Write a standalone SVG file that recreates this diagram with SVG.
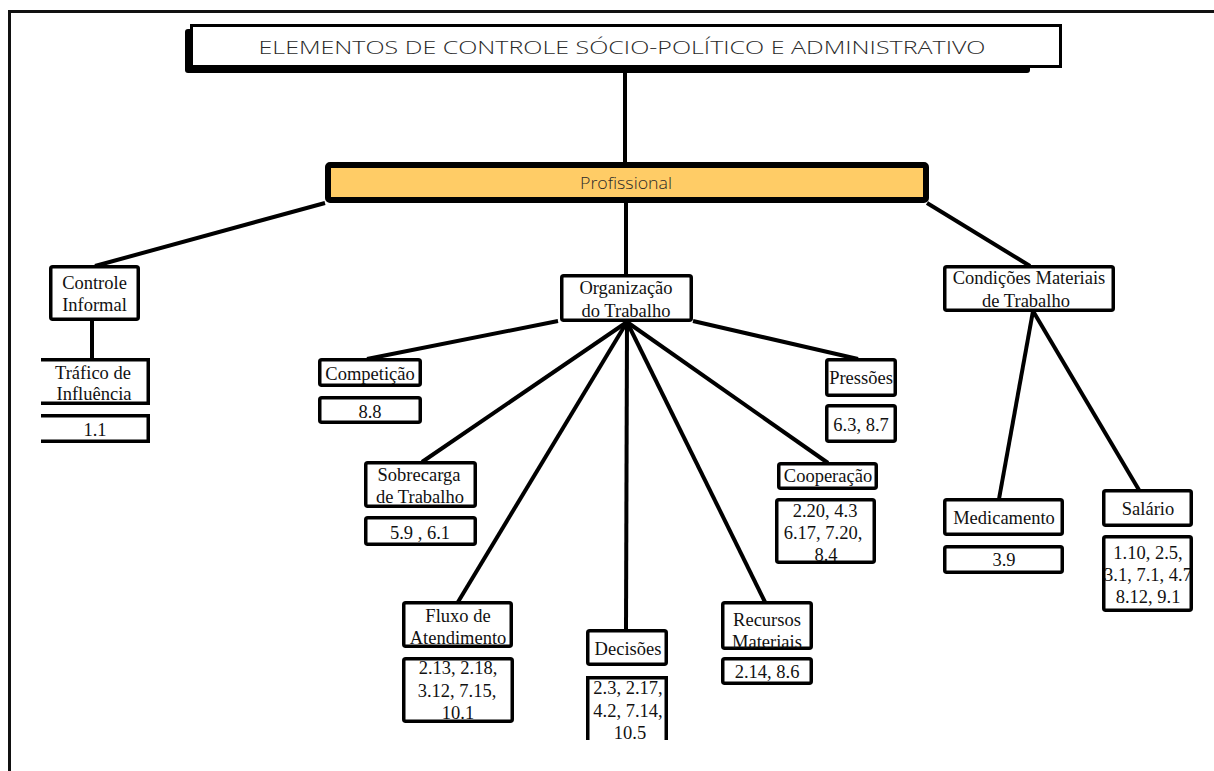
<svg xmlns="http://www.w3.org/2000/svg" width="1214" height="771" viewBox="0 0 1214 771">
<style>
.frame{fill:none;stroke:#111;stroke-width:3}
.c{fill:none;stroke:#000;stroke-width:4;stroke-linecap:butt}
.b{fill:#fff;stroke:#000;stroke-width:3.5}
.bo{fill:none;stroke:#000;stroke-width:3.5}
.t{font-family:"Liberation Serif","Times New Roman",serif;font-size:18.5px;fill:#111;text-anchor:middle}
.h{font-family:"Open Sans","Noto Sans",sans-serif;font-weight:300;fill:#2a2a2a;text-anchor:middle}
</style>
<rect width="1214" height="771" fill="#fff"/>
<path class="frame" d="M9.5,771 V11.5 H1214"/>
<g id="connectors">
<line class="c" x1="625" y1="73" x2="625" y2="163"/>
<line class="c" x1="626" y1="203" x2="626" y2="275"/>
<line class="c" x1="325" y1="203" x2="95" y2="266"/>
<line class="c" x1="927" y1="203" x2="1030" y2="266"/>
<line class="c" x1="92" y1="321" x2="92" y2="359"/>
<line class="c" x1="558" y1="321" x2="367" y2="359"/>
<line class="c" x1="693" y1="321" x2="858" y2="359"/>
<line class="c" x1="627" y1="322" x2="422" y2="462"/>
<line class="c" x1="627" y1="322" x2="458" y2="602"/>
<line class="c" x1="627" y1="322" x2="626" y2="630"/>
<line class="c" x1="627" y1="322" x2="765" y2="602"/>
<line class="c" x1="627" y1="322" x2="828" y2="463"/>
<line class="c" x1="1033" y1="311" x2="999" y2="499"/>
<line class="c" x1="1033" y1="311" x2="1139" y2="490"/>
</g>
<g id="title">
<rect x="185" y="29" width="845" height="44" rx="3" fill="#000"/>
<rect x="191.5" y="25.5" width="869" height="41" fill="#fff" stroke="#000" stroke-width="3"/>
<text class="h" x="622" y="54" font-size="18" textLength="727" lengthAdjust="spacingAndGlyphs">ELEMENTOS DE CONTROLE SÓCIO-POLÍTICO E ADMINISTRATIVO</text>
</g>
<g id="profissional">
<rect x="328" y="165" width="598" height="35" rx="2" fill="#FFCC66" stroke="#000" stroke-width="6"/>
<text class="h" x="626" y="189" font-size="16" textLength="92" lengthAdjust="spacingAndGlyphs">Profissional</text>
</g>
<g id="controle-informal">
<rect class="b" x="50.75" y="266.75" width="87.5" height="52.5" rx="2"/>
<text class="t" x="94.5" y="289">Controle</text>
<text class="t" x="94.5" y="311">Informal</text>
</g>
<g id="trafico">
<path class="b" d="M41,359.75 H148.25 V403.25 H41"/>
<text class="t" x="93" y="379">Tráfico de</text>
<text class="t" x="94" y="400">Influência</text>
</g>
<g id="trafico-ref">
<path class="b" d="M41,415.75 H148.25 V441.25 H41"/>
<text class="t" x="95" y="436">1.1</text>
</g>
<g id="organizacao">
<rect class="b" x="561.75" y="275.75" width="129.5" height="44.5" rx="2"/>
<text class="t" x="626" y="294">Organização</text>
<text class="t" x="626" y="317">do Trabalho</text>
</g>
<g id="competicao">
<rect class="b" x="319.75" y="359.75" width="100.5" height="25.5" rx="2"/>
<text class="t" x="370" y="380">Competição</text>
</g>
<g id="competicao-ref">
<rect class="b" x="319.75" y="397.75" width="100.5" height="24.5" rx="2"/>
<text class="t" x="370" y="418">8.8</text>
</g>
<g id="pressoes">
<rect class="b" x="826.75" y="359.75" width="68.5" height="35.5" rx="2"/>
<text class="t" x="861" y="384">Pressões</text>
</g>
<g id="pressoes-ref">
<rect class="b" x="826.75" y="405.75" width="68.5" height="35.5" rx="2"/>
<text class="t" x="861" y="431">6.3, 8.7</text>
</g>
<g id="sobrecarga">
<rect class="b" x="365.75" y="462.75" width="109.5" height="43.5" rx="2"/>
<text class="t" x="419" y="481">Sobrecarga</text>
<text class="t" x="420" y="503">de Trabalho</text>
</g>
<g id="sobrecarga-ref">
<rect class="b" x="365.75" y="517.75" width="109.5" height="26.5" rx="2"/>
<text class="t" x="420" y="539">5.9 , 6.1</text>
</g>
<g id="fluxo">
<rect class="b" x="403.75" y="602.75" width="107.5" height="43.5" rx="2"/>
<text class="t" x="458" y="622">Fluxo de</text>
<text class="t" x="458" y="644">Atendimento</text>
</g>
<g id="fluxo-ref">
<rect class="b" x="403.75" y="658.75" width="108.5" height="62.5" rx="2"/>
<text class="t" x="458" y="674">2.13, 2.18,</text>
<text class="t" x="457" y="697">3.12, 7.15,</text>
<text class="t" x="458" y="719">10.1</text>
</g>
<g id="decisoes">
<rect class="b" x="587.75" y="630.75" width="78.5" height="33.5" rx="2"/>
<text class="t" x="628" y="655">Decisões</text>
</g>
<g id="decisoes-ref">
<path class="b" d="M587.75,740 V677.75 H666.25 V740"/>
<text class="t" x="628" y="694">2.3, 2.17,</text>
<text class="t" x="628" y="717">4.2, 7.14,</text>
<text class="t" x="630" y="739">10.5</text>
<rect x="580" y="740" width="100" height="20" fill="#fff"/>
</g>
<g id="recursos">
<rect class="b" x="722.75" y="602.75" width="88.5" height="45.5" rx="2"/>
<text class="t" x="767" y="626">Recursos</text>
<text class="t" x="767" y="648">Materiais</text>
</g>
<g id="recursos-ref">
<rect class="b" x="722.75" y="658.75" width="88.5" height="24.5" rx="2"/>
<text class="t" x="767" y="678">2.14, 8.6</text>
</g>
<g id="cooperacao">
<rect class="b" x="778.75" y="463.75" width="97.5" height="24.5" rx="2"/>
<text class="t" x="828" y="482">Cooperação</text>
</g>
<g id="cooperacao-ref">
<rect class="b" x="776.75" y="499.75" width="97.5" height="62.5" rx="2"/>
<text class="t" x="825" y="517">2.20, 4.3</text>
<text class="t" x="823" y="539">6.17, 7.20,</text>
<text class="t" x="826" y="561">8.4</text>
</g>
<g id="condicoes">
<rect class="b" x="944.75" y="266.75" width="168.5" height="43.5" rx="2"/>
<text class="t" x="1029" y="284">Condições Materiais</text>
<text class="t" x="1026" y="307">de Trabalho</text>
</g>
<g id="medicamento">
<rect class="b" x="944.75" y="499.75" width="117.5" height="34.5" rx="2"/>
<text class="t" x="1004" y="524">Medicamento</text>
</g>
<g id="medicamento-ref">
<rect class="b" x="944.75" y="546.75" width="117.5" height="25.5" rx="2"/>
<text class="t" x="1004" y="566">3.9</text>
</g>
<g id="salario">
<rect class="b" x="1103.75" y="490.75" width="87.5" height="34.5" rx="2"/>
<text class="t" x="1148" y="515">Salário</text>
</g>
<g id="salario-ref">
<rect x="1103.75" y="536.75" width="87.5" height="73.5" fill="#fff"/>
<text class="t" x="1148" y="559">1.10, 2.5,</text>
<text class="t" x="1148" y="581">3.1, 7.1, 4.7</text>
<text class="t" x="1148" y="603">8.12, 9.1</text>
<rect class="bo" x="1103.75" y="536.75" width="87.5" height="73.5" rx="2"/>
<rect x="1096" y="560" width="6" height="30" fill="#fff"/>
</g>
</svg>
